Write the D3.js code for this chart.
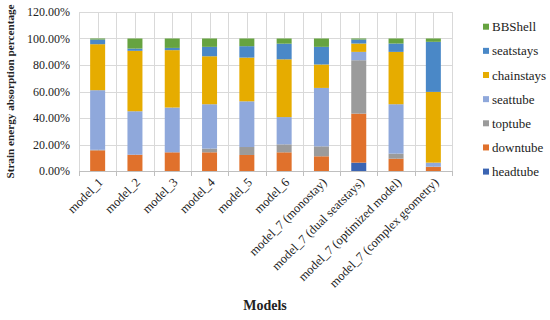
<!DOCTYPE html>
<html>
<head>
<meta charset="utf-8">
<script src="https://cdn.jsdelivr.net/npm/d3@7"></script>
<style>
  body { margin: 0; background: #fff; }
</style>
</head>
<body>
<svg id="chart"></svg>
<script>
// data (percent of total)
const models = ["model_1", "model_2", "model_3", "model_4", "model_5", "model_6",
  "model_7 (monostay)", "model_7 (dual seatstays)", "model_7 (optimized model)", "model_7 (complex geometry)"]
const parts = ["headtube", "downtube", "toptube", "seattube", "chainstays", "seatstays", "BBShell"]
const headtube   = [0,    0,    0,    0,    0,    0,    0,    6.3,  0,    0]
const downtube   = [15.6, 12.3, 14.1, 14.1, 12.1, 14.1, 11.1, 37.0, 9.3,  3.0]
const toptube    = [0.4,  0,    0,    2.8,  6.0,  6.0,  7.5,  40.3, 3.8,  0.3]
const seattube   = [45.0, 32.8, 33.8, 33.5, 34.5, 20.6, 44.1, 6.3,  37.3, 3.0]
const chainstays = [34.7, 45.6, 43.3, 36.2, 33.0, 43.6, 17.7, 6.3,  39.5, 53.4]
const seatstays  = [3.5,  1.7,  1.7,  7.1,  8.6,  11.8, 13.3, 3.0,  6.3,  37.8]
const BBShell    = [0.8,  7.6,  7.1,  6.3,  5.8,  3.9,  6.3,  0.8,  3.8,  2.5]
const yTicks = [0, 20, 40, 60, 80, 100, 120]

const series = { headtube, downtube, toptube, seattube, chainstays, seatstays, BBShell }
const colors = {
  headtube: "#3B64B2", downtube: "#E0712C", toptube: "#9B9B9B", seattube: "#8FA8DB",
  chainstays: "#E6AC00", seatstays: "#4A88C7", BBShell: "#66A340"
}
const font = "'Liberation Serif', 'Times New Roman', 'DejaVu Serif', serif"

const width = 550, height = 320
const margin = { top: 12, right: 98, bottom: 149, left: 79 }

const rows = models.map((m, i) => {
  const r = { model: m }
  parts.forEach(p => r[p] = series[p][i])
  return r
})
const stacked = d3.stack().keys(parts)(rows)

// 10 equal cells, bar in the middle of each
const x = d3.scaleBand()
  .domain(models)
  .range([margin.left, width - margin.right])
  .padding(0)
const cellEdges = models.map(m => x(m)).concat([width - margin.right])
const center = m => x(m) + x.bandwidth() / 2

const y = d3.scaleLinear()
  .domain([0, 120])
  .range([height - margin.bottom, margin.top])

const svg = d3.select("#chart")
  .attr("width", width)
  .attr("height", height)
  .attr("viewBox", [0, 0, width, height])
  .style("font-family", font)

// gridlines
const grid = svg.append("g").attr("stroke", "#d9d9d9").attr("stroke-width", 1)
grid.selectAll(".h").data(yTicks).join("line")
  .attr("x1", margin.left).attr("x2", width - margin.right)
  .attr("y1", d => Math.round(y(d)) + 0.5).attr("y2", d => Math.round(y(d)) + 0.5)
grid.selectAll(".v").data(cellEdges.concat(models.map(center))).join("line")
  .attr("x1", d => Math.round(d) + 0.5).attr("x2", d => Math.round(d) + 0.5)
  .attr("y1", y(120)).attr("y2", y(0))

// bars
const barW = 15
svg.append("g")
  .selectAll("g")
  .data(stacked)
  .join("g")
    .attr("fill", d => colors[d.key])
  .selectAll("rect")
  .data(d => d)
  .join("rect")
    .attr("x", d => center(d.data.model) - barW / 2)
    .attr("width", barW)
    .attr("y", d => y(d[1]))
    .attr("height", d => y(d[0]) - y(d[1]))

// x axis line + ticks
const ax = svg.append("g").attr("stroke", "#bfbfbf")
ax.append("line")
  .attr("x1", margin.left).attr("x2", width - margin.right)
  .attr("y1", Math.round(y(0)) + 0.5).attr("y2", Math.round(y(0)) + 0.5)
ax.selectAll(".t").data(cellEdges).join("line")
  .attr("x1", d => Math.round(d) + 0.5).attr("x2", d => Math.round(d) + 0.5)
  .attr("y1", y(0)).attr("y2", y(0) + 5)

// y tick labels
svg.append("g").selectAll("text").data(yTicks).join("text")
  .attr("x", 70)
  .attr("y", d => y(d))
  .attr("dy", "0.35em")
  .attr("text-anchor", "end")
  .attr("font-family", font)
  .attr("font-size", 12)
  .attr("fill", "#222")
  .text(d => d.toFixed(2) + "%")

// x tick labels
svg.append("g").selectAll("text").data(models).join("text")
  .attr("transform", d => `translate(${center(d) + 3},${y(0) + 9}) rotate(-45)`)
  .attr("text-anchor", "end")
  .attr("dy", "0.35em")
  .attr("font-family", font)
  .attr("font-size", 12.5)
  .attr("fill", "#222")
  .text(d => d)

// axis titles
svg.append("text")
  .attr("transform", `translate(14,${(y(0) + y(120)) / 2}) rotate(-90)`)
  .attr("text-anchor", "middle")
  .attr("font-family", font)
  .attr("font-size", 11.2)
  .attr("font-weight", "bold")
  .attr("fill", "#222")
  .text("Strain energy absorption percentage")

svg.append("text")
  .attr("x", 265).attr("y", 310)
  .attr("text-anchor", "middle")
  .attr("font-family", font)
  .attr("font-size", 14)
  .attr("font-weight", "bold")
  .attr("fill", "#222")
  .text("Models")

// legend (top to bottom: last series first)
const legend = svg.append("g").selectAll("g").data(parts.slice().reverse()).join("g")
  .attr("transform", (d, i) => `translate(483,${26.7 + i * 24.15})`)
legend.append("rect")
  .attr("x", 0).attr("y", -3).attr("width", 6).attr("height", 6)
  .attr("fill", d => colors[d])
legend.append("text")
  .attr("x", 9).attr("dy", "0.35em")
  .attr("font-family", font)
  .attr("font-size", 13)
  .attr("fill", "#222")
  .text(d => d)
</script>
</body>
</html>
